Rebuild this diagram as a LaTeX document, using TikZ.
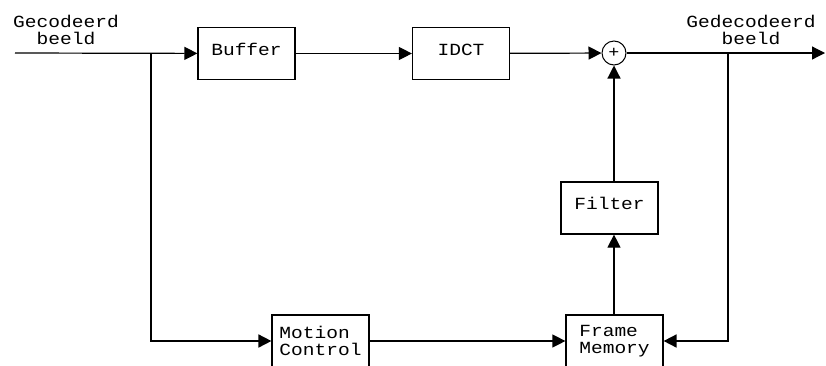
\documentclass[tikz,border=0pt]{standalone}
\usepackage{fontspec}
\setmainfont[FakeStretch=1.15]{Liberation Mono}
\usetikzlibrary{arrows.meta}

\tikzset{
  blok/.style={draw, minimum width=97pt, minimum height=52pt, inner sep=0pt, align=left},
  enkel/.style={text height=13pt, text depth=10pt},
  tekst/.style={align=center, inner sep=0pt},
  >={Triangle[length=13pt,width=13pt]}
}

\begin{document}
\begin{tikzpicture}[x=1pt,y=-1pt,line width=1.2pt,font=\fontsize{17}{17}\selectfont]
\useasboundingbox (0,0) rectangle (826,365);
\clip (0,0) rectangle (826,365);
% blokken
\node[blok,enkel] (buffer) at (246.5,53.5) {Buffer};
\node[blok,enkel] (idct) at (461,53.5) {IDCT};
\node[draw,circle,minimum size=24pt,inner sep=0pt,line width=1pt] (som) at (614,53) {\fontsize{16}{16}\selectfont+};
\node[blok,enkel] (filter) at (609.5,208) {Filter};
\node[blok] (motion) at (320.5,341) {Motion\\Control};
\node[blok] (geheugen) at (614.5,341) {Frame\\Memory};
% teksten
\node[tekst] (invoer) at (66,29.5) {Gecodeerd\\beeld};
\node[tekst] (uitvoer) at (751,29.5) {Gedecodeerd\\beeld};
% punten
\coordinate (in) at (15,53);
\coordinate (uit) at (825,53);
\coordinate (tak1) at (151,53);
\coordinate (tak2) at (728,53);
% verbindingen
\draw[->] (in) -- (buffer);
\draw[->] (buffer) -- (idct);
\draw[->] (idct) -- (som);
\draw[->] (som) -- (uit);
\draw[->] (filter.north -| som) -- (som);
\draw[->] (geheugen.north -| som) -- (filter.south -| som);
\draw[->] (motion.east) -- (geheugen.west |- motion.east);
\draw[->,line width=1.7pt] (tak1) |- (motion.west);
\draw[->,line width=1.7pt] (tak2) |- (geheugen.east);
\end{tikzpicture}
\end{document}
